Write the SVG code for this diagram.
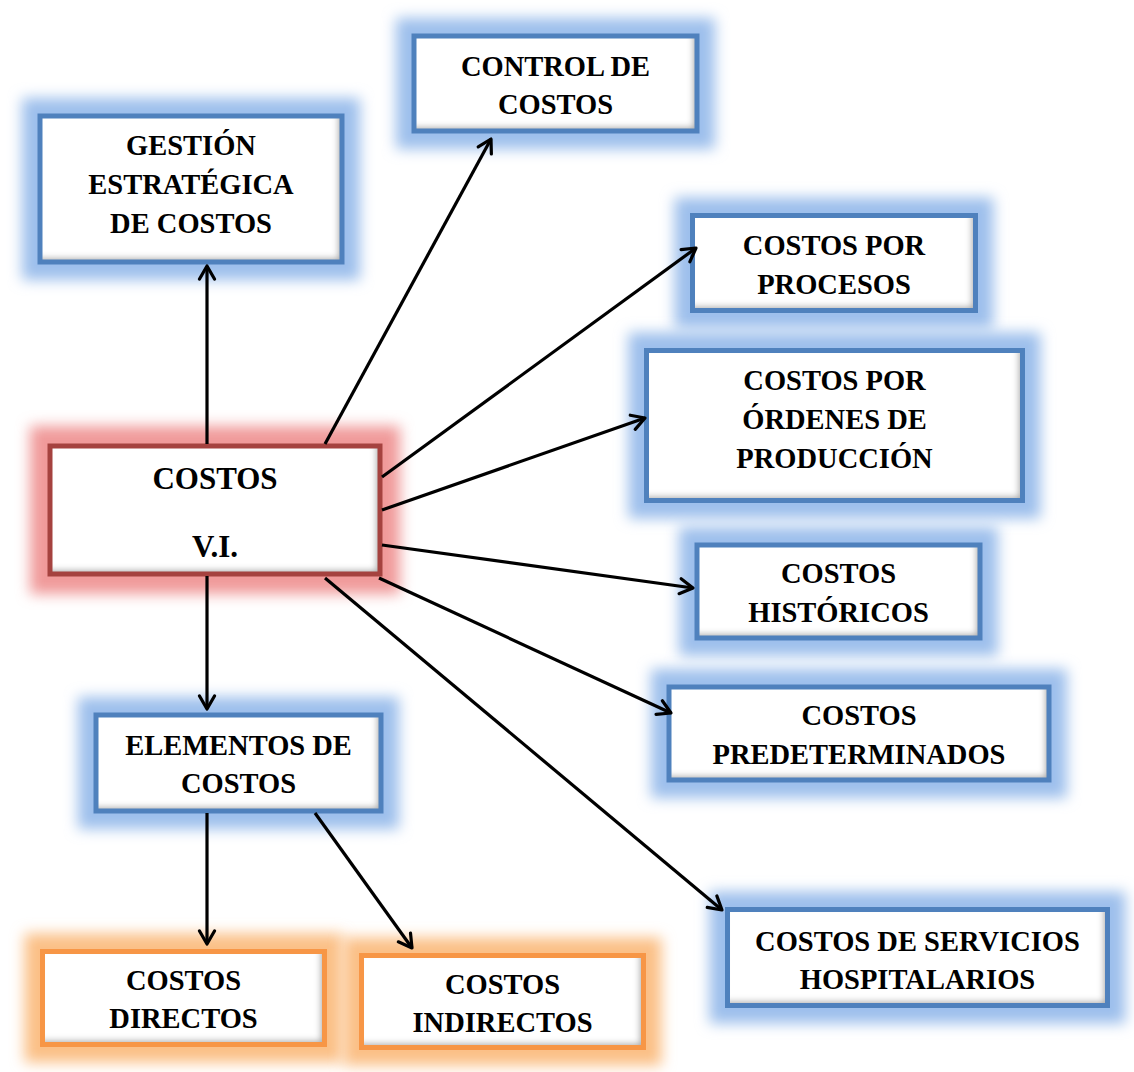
<svg xmlns="http://www.w3.org/2000/svg" width="1134" height="1072" viewBox="0 0 1134 1072">
<defs>
<filter id="glow" x="-30%" y="-40%" width="160%" height="180%">
<feGaussianBlur stdDeviation="7"/>
</filter>
<filter id="inset" x="-10%" y="-15%" width="120%" height="130%">
<feFlood flood-color="#000" flood-opacity="0.6"/>
<feComposite in2="SourceAlpha" operator="out"/>
<feOffset dx="-4" dy="-4"/>
<feGaussianBlur stdDeviation="3"/>
<feComposite in2="SourceAlpha" operator="in" result="sh"/>
<feMerge><feMergeNode in="SourceGraphic"/><feMergeNode in="sh"/></feMerge>
</filter>
<marker id="arr" markerUnits="userSpaceOnUse" markerWidth="30" markerHeight="30" viewBox="-15 -15 30 30" refX="0" refY="0" orient="auto">
<path d="M-13,-7.5 L0,0 L-13,7.5" fill="none" stroke="#000" stroke-width="3.2" stroke-linecap="round" stroke-linejoin="round"/>
</marker>
</defs>
<style>
.gb{fill:#9dbfec;filter:url(#glow)}
.go{fill:#fbc086;filter:url(#glow)}
.gr{fill:#f09a9a;filter:url(#glow)}
.in{fill:#fff;filter:url(#inset)}
.bb{fill:none;stroke:#4f81bd;stroke-width:5}
.bo{fill:none;stroke:#f79646;stroke-width:5}
.br{fill:none;stroke:#a5423f;stroke-width:5}
text{font-family:"Liberation Serif","Times New Roman",serif;font-weight:bold;font-size:28.5px;text-anchor:middle;fill:#000}
.big{font-size:31px}
.c{stroke:#000;stroke-width:3.2;fill:none;marker-end:url(#arr)}
</style>
<rect width="1134" height="1072" fill="#fff"/>

<g id="n-gestion">
<rect class="gb" x="22" y="98" width="338" height="182"/>
<rect class="in" x="40" y="116" width="302" height="146"/>
<rect class="bb" x="40" y="116" width="302" height="146"/>
<text x="191" y="155">GESTIÓN</text>
<text x="191" y="194">ESTRATÉGICA</text>
<text x="191" y="233">DE COSTOS</text>
</g>

<g id="n-control">
<rect class="gb" x="396" y="18" width="319" height="131"/>
<rect class="in" x="414" y="36" width="283" height="95"/>
<rect class="bb" x="414" y="36" width="283" height="95"/>
<text x="555.5" y="76">CONTROL DE</text>
<text x="555.5" y="114">COSTOS</text>
</g>

<g id="n-procesos">
<rect class="gb" x="674.5" y="197.5" width="319" height="131"/>
<rect class="in" x="692.5" y="215.5" width="283" height="95"/>
<rect class="bb" x="692.5" y="215.5" width="283" height="95"/>
<text x="834" y="255">COSTOS POR</text>
<text x="834" y="294">PROCESOS</text>
</g>

<g id="n-ordenes">
<rect class="gb" x="628.5" y="332.5" width="412" height="186"/>
<rect class="in" x="646.5" y="350.5" width="376" height="150"/>
<rect class="bb" x="646.5" y="350.5" width="376" height="150"/>
<text x="834.5" y="390">COSTOS POR</text>
<text x="834.5" y="429">ÓRDENES DE</text>
<text x="834.5" y="468">PRODUCCIÓN</text>
</g>

<g id="n-historicos">
<rect class="gb" x="679" y="527" width="319" height="129"/>
<rect class="in" x="697" y="545" width="283" height="93"/>
<rect class="bb" x="697" y="545" width="283" height="93"/>
<text x="838.5" y="583">COSTOS</text>
<text x="838.5" y="622">HISTÓRICOS</text>
</g>

<g id="n-predeterminados">
<rect class="gb" x="651" y="669" width="416" height="129"/>
<rect class="in" x="669" y="687" width="380" height="93"/>
<rect class="bb" x="669" y="687" width="380" height="93"/>
<text x="859" y="725">COSTOS</text>
<text x="859" y="764">PREDETERMINADOS</text>
</g>

<g id="n-hospitalarios">
<rect class="gb" x="709.5" y="891.5" width="416" height="132"/>
<rect class="in" x="727.5" y="909.5" width="380" height="96"/>
<rect class="bb" x="727.5" y="909.5" width="380" height="96"/>
<text x="917.5" y="951">COSTOS DE SERVICIOS</text>
<text x="917.5" y="989">HOSPITALARIOS</text>
</g>

<g id="n-costos">
<rect class="gr" x="30" y="426" width="370" height="168"/>
<rect class="in" x="50" y="446" width="330" height="128"/>
<rect class="br" x="50" y="446" width="330" height="128"/>
<text class="big" x="215" y="489">COSTOS</text>
<text class="big" x="215" y="557">V.I.</text>
</g>

<g id="n-elementos">
<rect class="gb" x="78" y="697" width="321" height="132"/>
<rect class="in" x="96" y="715" width="285" height="96"/>
<rect class="bb" x="96" y="715" width="285" height="96"/>
<text x="238.5" y="755">ELEMENTOS DE</text>
<text x="238.5" y="793">COSTOS</text>
</g>

<g id="n-directos">
<rect class="go" x="24.5" y="933.5" width="318" height="129"/>
<rect class="in" x="42.5" y="951.5" width="282" height="93"/>
<rect class="bo" x="42.5" y="951.5" width="282" height="93"/>
<text x="183.5" y="990">COSTOS</text>
<text x="183.5" y="1028">DIRECTOS</text>
</g>

<g id="n-indirectos">
<rect class="go" x="343.5" y="937.5" width="318" height="128"/>
<rect class="in" x="361.5" y="955.5" width="282" height="92"/>
<rect class="bo" x="361.5" y="955.5" width="282" height="92"/>
<text x="502.5" y="994">COSTOS</text>
<text x="502.5" y="1032">INDIRECTOS</text>
</g>

<g id="connectors">
<line class="c" x1="207" y1="444" x2="207" y2="266"/>
<line class="c" x1="325" y1="444" x2="491" y2="139"/>
<line class="c" x1="382" y1="477" x2="696" y2="248"/>
<line class="c" x1="382" y1="510" x2="645" y2="418"/>
<line class="c" x1="382" y1="545" x2="693" y2="588"/>
<line class="c" x1="379" y1="578" x2="671" y2="713"/>
<line class="c" x1="325" y1="578" x2="722" y2="910"/>
<line class="c" x1="207" y1="576" x2="207" y2="709"/>
<line class="c" x1="207" y1="813" x2="207" y2="944"/>
<line class="c" x1="315" y1="813" x2="412" y2="948"/>
</g>
</svg>
